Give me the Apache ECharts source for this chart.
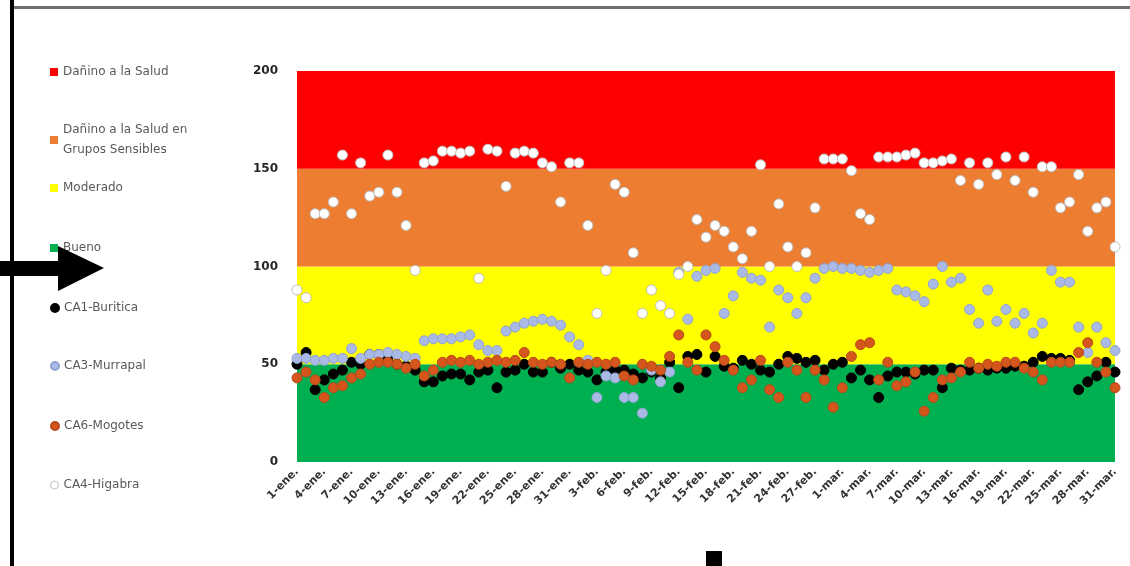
<!DOCTYPE html>
<html>
<head>
<meta charset="utf-8">
<script src="https://cdn.jsdelivr.net/npm/echarts@6/dist/echarts.min.js"></script>
<style>
html,body{margin:0;padding:0;background:#fff;}
#chart{width:1130px;height:566px;}
</style>
</head>
<body>
<div id="chart"></div>
<script>
// ---- Data ----
const monthNames = ['ene.', 'feb.', 'mar.'];
const monthDays = [31, 29, 31];
const categories = [];
monthNames.forEach((m, i) => { for (let d = 1; d <= monthDays[i]; d++) categories.push(d + '-' + m); });

const bandNames = ['Bueno', 'Moderado', 'Dañino a la Salud en Grupos Sensibles', 'Dañino a la Salud'];
const bandLimits = [50, 100, 150, 200];
const bandColors = ['#00B050', '#FFFF00', '#ED7D31', '#FF0000'];

const yTicks = [0, 50, 100, 150, 200];

const ca1Buritica = [
  50,56,37,42,45,47,51,50,55,55,
  53,50,49,47,41,41,44,45,45,42,
  46,47,38,46,47,50,46,46,51,48,
  50,47,46,42,46,47,47,45,43,46,
  43,51,38,54,55,46,54,49,48,52,
  50,47,46,50,54,53,51,52,47,50,
  51,43,47,42,33,44,46,46,45,47,
  47,38,48,47,47,48,47,48,48,49,
  49,51,54,53,53,52,37,41,44,51,46
];
const ca3Murrapal = [
  53,53,52,52,53,53,58,53,55,55,
  56,55,54,53,62,63,63,63,64,65,
  60,57,57,67,69,71,72,73,72,70,
  64,60,52,33,44,43,33,33,25,47,
  41,46,97,73,95,98,99,76,85,97,
  94,93,69,88,84,76,84,94,99,100,
  99,99,98,97,98,99,88,87,85,82,
  91,100,92,94,78,71,88,72,78,71,
  76,66,71,98,92,92,69,56,69,61,57
];
const ca6Mogotes = [
  43,46,42,33,38,39,43,45,50,51,
  51,50,48,50,44,47,51,52,51,52,
  50,51,52,51,52,56,51,50,51,50,
  43,51,50,51,50,51,44,42,50,49,
  47,54,65,51,47,65,59,52,47,38,
  42,52,37,33,51,47,33,47,42,28,
  38,54,60,61,42,51,39,41,46,26,
  33,42,43,46,51,48,50,49,51,51,
  48,46,42,51,51,51,56,61,51,46,38
];
const ca4Higabra = [
  88,84,127,127,133,157,127,153,136,138,
  157,138,121,98,153,154,159,159,158,159,
  94,160,159,141,158,159,158,153,151,133,
  153,153,121,76,98,142,138,107,76,88,
  80,76,96,100,124,115,121,118,110,104,
  118,152,100,132,110,100,107,130,155,155,
  155,149,127,124,156,156,156,157,158,153,
  153,154,155,144,153,142,153,147,156,144,
  156,138,151,151,130,133,147,118,130,133,110
];

const pointSeries = [
  { name: 'CA1-Buritica', data: ca1Buritica, color: '#000000', border: '#000000' },
  { name: 'CA3-Murrapal', data: ca3Murrapal, color: '#ABBAE4', border: '#8FA3D4' },
  { name: 'CA6-Mogotes', data: ca6Mogotes, color: '#D4561C', border: '#B8491A' },
  { name: 'CA4-Higabra', data: ca4Higabra, color: '#FFFFFF', border: '#BFBFBF' }
];

// ---- Build option ----
const FONT = '"DejaVu Sans", Lato, sans-serif';
const series = [];
bandLimits.forEach((lim, i) => {
  const thick = lim - (i === 0 ? 0 : bandLimits[i - 1]);
  series.push({
    name: bandNames[i],
    type: 'line',
    stack: 'bands',
    data: categories.map(() => thick),
    symbol: 'none',
    lineStyle: { width: 0 },
    itemStyle: { color: bandColors[i] },
    areaStyle: { color: bandColors[i], opacity: 1 },
    silent: true,
    z: 1
  });
});
pointSeries.forEach((s, i) => {
  series.push({
    name: s.name,
    type: 'scatter',
    data: s.data,
    symbol: 'circle',
    symbolSize: 10,
    itemStyle: { color: s.color, borderColor: s.border, borderWidth: 1, opacity: 1 },
    z: 3 + i
  });
});

const legendOrder = [
  { name: 'Dañino a la Salud', icon: 'rect', top: 57 },
  { name: 'Dañino a la Salud en Grupos Sensibles', icon: 'rect', top: 115 },
  { name: 'Moderado', icon: 'rect', top: 173 },
  { name: 'Bueno', icon: 'rect', top: 233 },
  { name: 'CA1-Buritica', icon: 'circle', top: 293 },
  { name: 'CA3-Murrapal', icon: 'circle', top: 351 },
  { name: 'CA6-Mogotes', icon: 'circle', top: 411 },
  { name: 'CA4-Higabra', icon: 'circle', top: 470 }
];
const legends = legendOrder.map(l => ({
  orient: 'vertical',
  left: 45,
  top: l.top,
  itemWidth: 8,
  itemHeight: 8,
  itemGap: 0,
  icon: l.icon,
  selectedMode: false,
  data: [{ name: l.name, icon: l.icon, itemStyle: l.name === 'CA4-Higabra' ? { color: '#fff', borderColor: '#bfbfbf', borderWidth: 1 } : undefined }],
  formatter: n => n === 'Dañino a la Salud en Grupos Sensibles' ? 'Dañino a la Salud en\nGrupos Sensibles' : n,
  textStyle: { color: '#595959', fontSize: 12, fontFamily: FONT, lineHeight: 20 }
}));

const option = {
  animation: false,
  backgroundColor: '#ffffff',
  legend: legends,
  grid: { left: 297, right: 15, top: 71, bottom: 104, containLabel: false },
  xAxis: {
    type: 'category',
    data: categories,
    boundaryGap: false,
    axisLine: { show: false },
    axisTick: { show: false },
    axisLabel: {
      interval: 2,
      rotate: 45,
      margin: 8,
      color: '#333333',
      fontSize: 11,
      fontWeight: 'bold',
      fontFamily: FONT
    },
    splitLine: { show: false }
  },
  yAxis: {
    type: 'value',
    min: yTicks[0],
    max: yTicks[yTicks.length - 1],
    interval: 50,
    axisLine: { show: false },
    axisTick: { show: false },
    splitLine: { show: false },
    axisLabel: {
      margin: 19,
      color: '#262626',
      fontSize: 12,
      fontWeight: 'bold',
      fontFamily: FONT
    }
  },
  graphic: [
    { type: 'rect', shape: { x: 14, y: 6, width: 1116, height: 3 }, style: { fill: '#707070' }, z: 100 },
    { type: 'rect', shape: { x: 10, y: 0, width: 4, height: 566 }, style: { fill: '#000' }, z: 100 },
    { type: 'rect', shape: { x: 0, y: 261, width: 60, height: 15 }, style: { fill: '#000' }, z: 100 },
    { type: 'polygon', shape: { points: [[58, 246], [104, 268], [58, 291]] }, style: { fill: '#000' }, z: 100 },
    { type: 'rect', shape: { x: 706, y: 551, width: 16, height: 15 }, style: { fill: '#000' }, z: 100 }
  ],
  series: series
};

const chart = echarts.init(document.getElementById('chart'), null, { renderer: 'canvas' });
chart.setOption(option);
</script>
</body>
</html>
